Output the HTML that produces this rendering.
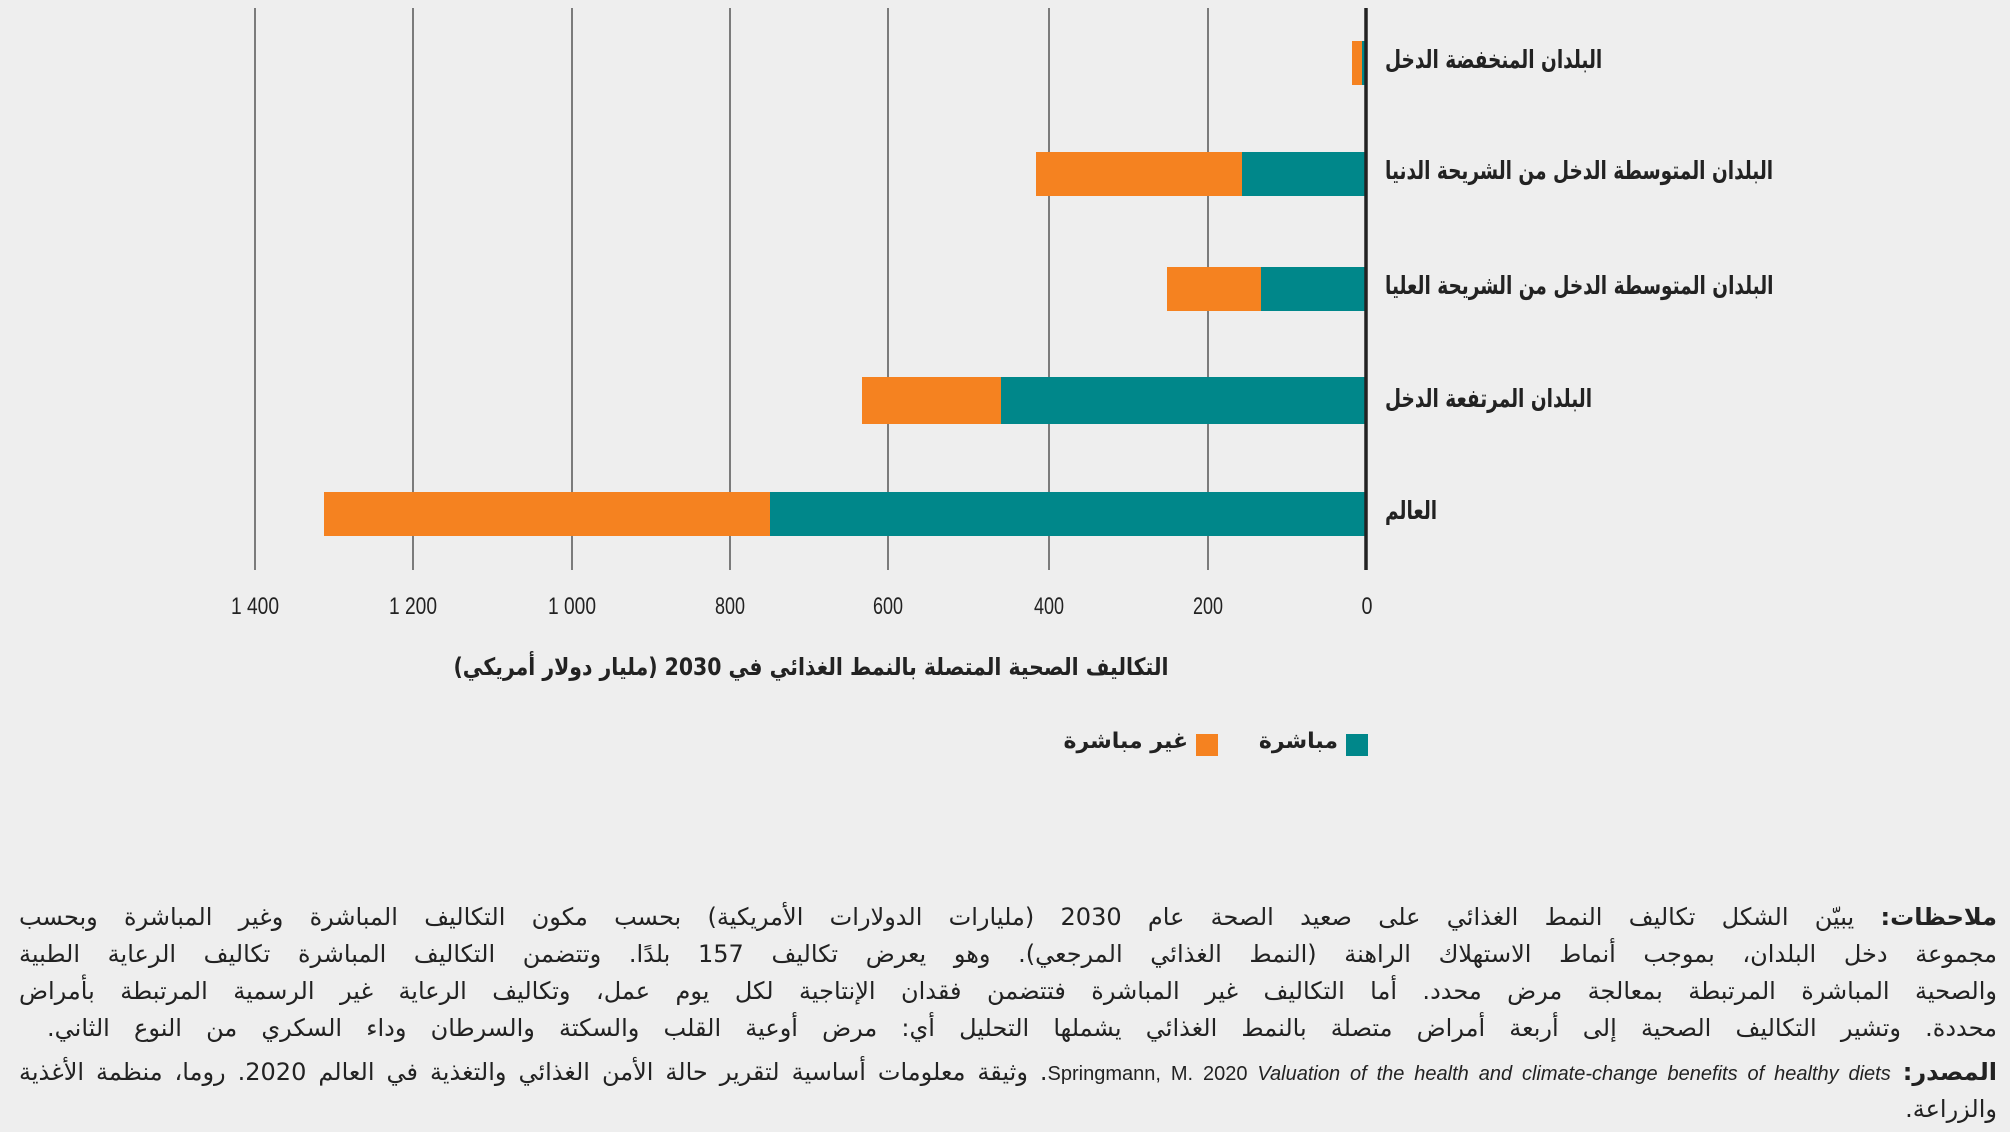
<!DOCTYPE html>
<html><head><meta charset="utf-8">
<style>
html,body{margin:0;padding:0;background:#eeeeee;}
body{width:2010px;height:1132px;position:relative;overflow:hidden;font-family:"DejaVu Sans",sans-serif;}
svg{position:absolute;left:0;top:0;}
.notes{position:absolute;left:19px;width:1978px;direction:rtl;font-family:"DejaVu Sans",sans-serif;font-size:24px;color:#222;}
.ln{position:absolute;left:0;width:1978px;white-space:nowrap;text-align:justify;text-align-last:justify;line-height:30px;}
.r{text-align:right;text-align-last:right;}
.lab{position:absolute;left:1385px;white-space:nowrap;direction:rtl;transform:scaleX(0.74);transform-origin:left center;font-size:25px;}
</style></head>
<body>
<svg width="2010" height="1132" xmlns="http://www.w3.org/2000/svg">
  <g stroke="#555" stroke-width="1.5">
    <line x1="255" y1="8" x2="255" y2="570"/>
    <line x1="413" y1="8" x2="413" y2="570"/>
    <line x1="572" y1="8" x2="572" y2="570"/>
    <line x1="730" y1="8" x2="730" y2="570"/>
    <line x1="888" y1="8" x2="888" y2="570"/>
    <line x1="1049" y1="8" x2="1049" y2="570"/>
    <line x1="1208" y1="8" x2="1208" y2="570"/>
  </g>
  <rect x="1352" y="41" width="10" height="44" fill="#f58220"/>
  <rect x="1362" y="41" width="5" height="44" fill="#00878a"/>
  <rect x="1036" y="152" width="206" height="44" fill="#f58220"/>
  <rect x="1242" y="152" width="125" height="44" fill="#00878a"/>
  <rect x="1167" y="267" width="94" height="44" fill="#f58220"/>
  <rect x="1261" y="267" width="106" height="44" fill="#00878a"/>
  <rect x="862" y="377" width="139" height="47" fill="#f58220"/>
  <rect x="1001" y="377" width="366" height="47" fill="#00878a"/>
  <rect x="324" y="492" width="446" height="44" fill="#f58220"/>
  <rect x="770" y="492" width="597" height="44" fill="#00878a"/>
  <line x1="1366" y1="8" x2="1366" y2="570" stroke="#222" stroke-width="3.5"/>
  <g font-family="Liberation Sans" font-size="24" fill="#222" text-anchor="middle">
    <text x="255" y="614" textLength="48" lengthAdjust="spacingAndGlyphs">1 400</text>
    <text x="413" y="614" textLength="48" lengthAdjust="spacingAndGlyphs">1 200</text>
    <text x="572" y="614" textLength="48" lengthAdjust="spacingAndGlyphs">1 000</text>
    <text x="730" y="614" textLength="30" lengthAdjust="spacingAndGlyphs">800</text>
    <text x="888" y="614" textLength="30" lengthAdjust="spacingAndGlyphs">600</text>
    <text x="1049" y="614" textLength="30" lengthAdjust="spacingAndGlyphs">400</text>
    <text x="1208" y="614" textLength="30" lengthAdjust="spacingAndGlyphs">200</text>
    <text x="1367" y="614" textLength="11" lengthAdjust="spacingAndGlyphs">0</text>
  </g>
  <rect x="1346" y="734" width="22" height="22" fill="#00878a"/>
  <rect x="1196" y="734" width="22" height="22" fill="#f58220"/>
</svg>
<div style="position:absolute;left:0;top:0;width:2010px;height:800px;font-weight:bold;color:#222;">
  <div class="lab" style="top:45px;">البلدان المنخفضة الدخل</div>
  <div class="lab" style="top:156px;">البلدان المتوسطة الدخل من الشريحة الدنيا</div>
  <div class="lab" style="top:271px;">البلدان المتوسطة الدخل من الشريحة العليا</div>
  <div class="lab" style="top:384px;">البلدان المرتفعة الدخل</div>
  <div class="lab" style="top:496px;">العالم</div>
  <div style="position:absolute;left:211px;width:1200px;top:653px;white-space:nowrap;text-align:center;font-size:24px;direction:rtl;transform:scaleX(0.85);transform-origin:center;">التكاليف الصحية المتصلة بالنمط الغذائي في 2030 (مليار دولار أمريكي)</div>
  <div style="position:absolute;right:672px;top:729px;white-space:nowrap;font-size:22px;direction:rtl;">مباشرة</div>
  <div style="position:absolute;right:822px;top:729px;white-space:nowrap;font-size:22px;direction:rtl;">غير مباشرة</div>
</div>
<div class="notes" style="top:902px;">
  <div class="ln" style="top:0;"><b>ملاحظات:</b> يبيّن الشكل تكاليف النمط الغذائي على صعيد الصحة عام 2030 (مليارات الدولارات الأمريكية) بحسب مكون التكاليف المباشرة وغير المباشرة وبحسب</div>
  <div class="ln" style="top:37px;">مجموعة دخل البلدان، بموجب أنماط الاستهلاك الراهنة (النمط الغذائي المرجعي). وهو يعرض تكاليف 157 بلدًا. وتتضمن التكاليف المباشرة تكاليف الرعاية الطبية</div>
  <div class="ln" style="top:74px;">والصحية المباشرة المرتبطة بمعالجة مرض محدد. أما التكاليف غير المباشرة فتتضمن فقدان الإنتاجية لكل يوم عمل، وتكاليف الرعاية غير الرسمية المرتبطة بأمراض</div>
  <div class="ln" style="top:111px;width:1950px;left:28px;">محددة. وتشير التكاليف الصحية إلى أربعة أمراض متصلة بالنمط الغذائي يشملها التحليل أي: مرض أوعية القلب والسكتة والسرطان وداء السكري من النوع الثاني.</div>
  <div class="ln" style="top:155px;"><b>المصدر:</b> <span style="font-family:'Liberation Sans';font-size:20px;">Springmann, M. 2020 <i>Valuation of the health and climate-change benefits of healthy diets</i></span>. وثيقة معلومات أساسية لتقرير حالة الأمن الغذائي والتغذية في العالم 2020. روما، منظمة الأغذية</div>
  <div class="ln r" style="top:192px;">والزراعة.</div>
</div>
</body></html>
